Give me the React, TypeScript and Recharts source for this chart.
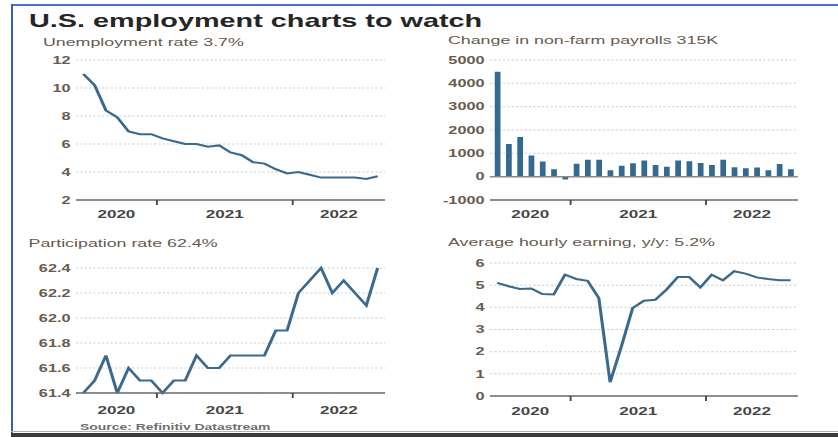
import React from "react";
import { ComposedChart, Line, Bar, XAxis, YAxis, CartesianGrid, ReferenceLine } from "recharts";

// the reference is a horizontally stretched picture, so the panels are drawn narrow and scaled
const S = 1.55;
const FONT = "'Liberation Sans', Arial, sans-serif";

const months = [
  "2020-06", "2020-07", "2020-08", "2020-09", "2020-10", "2020-11", "2020-12",
  "2021-01", "2021-02", "2021-03", "2021-04", "2021-05", "2021-06", "2021-07",
  "2021-08", "2021-09", "2021-10", "2021-11", "2021-12",
  "2022-01", "2022-02", "2022-03", "2022-04", "2022-05", "2022-06", "2022-07", "2022-08",
];

const unemployment = [11.0, 10.2, 8.4, 7.9, 6.9, 6.7, 6.7, 6.4, 6.2, 6.0, 6.0, 5.8, 5.9, 5.4, 5.2, 4.7, 4.6, 4.2, 3.9, 4.0, 3.8, 3.6, 3.6, 3.6, 3.6, 3.5, 3.7];
const payrolls = [4500, 1400, 1700, 910, 650, 320, -120, 550, 720, 720, 280, 470, 580, 690, 500, 430, 690, 660, 590, 500, 730, 400, 360, 390, 280, 540, 315];
const participation = [61.4, 61.5, 61.7, 61.4, 61.6, 61.5, 61.5, 61.4, 61.5, 61.5, 61.7, 61.6, 61.6, 61.7, 61.7, 61.7, 61.7, 61.9, 61.9, 62.2, 62.3, 62.4, 62.2, 62.3, 62.2, 62.1, 62.4];
const earnings = [5.1, 4.95, 4.83, 4.85, 4.6, 4.58, 5.47, 5.28, 5.2, 4.42, 0.62, 2.23, 3.97, 4.3, 4.34, 4.8, 5.37, 5.37, 4.9, 5.47, 5.22, 5.63, 5.52, 5.35, 5.28, 5.22, 5.22];

const unempTicks = [2, 4, 6, 8, 10, 12];
const payrollTicks = [-1000, 0, 1000, 2000, 3000, 4000, 5000];
const partTicks = [61.4, 61.6, 61.8, 62.0, 62.2, 62.4];
const earnTicks = [0, 1, 2, 3, 4, 5, 6];

const X_DOMAIN: [number, number] = [-0.65, 26.65];
const boundaries = months
  .map((m, i) => (m.endsWith("-01") ? i - 0.5 : null))
  .filter((v): v is number => v !== null);
const edges = [X_DOMAIN[0], ...boundaries, X_DOMAIN[1]];
const yearCenters = edges.slice(0, -1).map((e, k) => ({
  value: (e + edges[k + 1]) / 2,
  label: months[Math.max(0, Math.ceil(e))].slice(0, 4),
}));
const xTicks = [...yearCenters.map((c) => c.value), ...boundaries].sort((a, b) => a - b);

const LINE = "#3b6a8e";
const BAR = "#346a8f";
const TICK_STYLE = { fill: "#6a5b4d", fontSize: 10.5, fontWeight: 700, fontFamily: FONT };

const yearTick = (dy: number) => (props: any) => {
  const { x, y, payload } = props;
  const c = yearCenters.find((yc) => Math.abs(yc.value - payload.value) < 1e-6);
  if (!c) {
    return <line x1={x} x2={x} y1={y} y2={y + 5} stroke="#444" strokeWidth={1.2} />;
  }
  return (
    <text x={x} y={y + dy} textAnchor="middle" fill="#474747" fontSize={11} fontWeight={700} fontFamily={FONT}>
      {c.label}
    </text>
  );
};

interface PanelProps {
  left: number;
  top: number;
  width: number;
  height: number;
  yWidth: number;
  values: number[];
  domain: [number, number];
  ticks: number[];
  labelDy: number;
  kind: "line" | "bar";
  fmt?: (v: number) => string;
}

function Panel({ left, top, width, height, yWidth, values, domain, ticks, labelDy, kind, fmt }: PanelProps) {
  const data = months.map((m, i) => ({ i, month: m, value: values[i] }));
  return (
    <div style={{ position: "absolute", left, top }}>
      <ComposedChart width={width} height={height} data={data} margin={{ top: 10, right: 10, bottom: 0, left: 0 }}>
        <CartesianGrid vertical={false} stroke="#cdcdcd" strokeDasharray="1.4 1.4" />
        <XAxis
          dataKey="i"
          type="number"
          domain={X_DOMAIN}
          ticks={xTicks}
          interval={0}
          height={30}
          tickLine={false}
          tickSize={0}
          tickMargin={0}
          axisLine={{ stroke: "#6b6b6b", strokeWidth: 1.5 }}
          tick={yearTick(labelDy)}
        />
        <YAxis
          type="number"
          domain={domain}
          ticks={ticks}
          interval={0}
          width={yWidth}
          axisLine={false}
          tickLine={false}
          tickSize={0}
          tickMargin={3.5}
          tick={TICK_STYLE}
          tickFormatter={fmt}
        />
        {kind === "bar" && <ReferenceLine y={0} stroke="#8a8a8a" strokeWidth={1.5} />}
        {kind === "bar" ? (
          <Bar dataKey="value" fill={BAR} barSize={3.7} isAnimationActive={false} />
        ) : (
          <Line dataKey="value" type="linear" stroke={LINE} strokeWidth={2} dot={false} isAnimationActive={false} />
        )}
      </ComposedChart>
    </div>
  );
}

export default function App() {
  const innerW = 838 / S;
  const sub = { fill: "#675a4e", fontSize: 11.5, fontFamily: FONT };
  return (
    <div style={{ position: "absolute", left: 0, top: 0, width: 838, height: 437, background: "#fff", overflow: "hidden" }}>
      <div style={{ position: "absolute", left: 11, top: 4, right: 0, height: 2, background: "#4a74c8" }} />
      <div style={{ position: "absolute", left: 11, top: 4, width: 2, height: 430, background: "#3b5fb0" }} />
      <div style={{ position: "absolute", left: 11, top: 431, right: 0, height: 1, background: "#b0b0b0" }} />
      <div style={{ position: "absolute", left: 11, top: 433, right: 0, height: 4, background: "#3c3c3c" }} />

      <div
        style={{
          position: "absolute",
          left: 0,
          top: 0,
          width: innerW,
          height: 437,
          transform: `scaleX(${S})`,
          transformOrigin: "0 0",
        }}
      >
        <Panel left={0} top={50} width={258.4} height={180} yWidth={49} values={unemployment} domain={[2, 12]} ticks={unempTicks} labelDy={18} kind="line" />
        <Panel left={270} top={50} width={254.8} height={180} yWidth={46.1} values={payrolls} domain={[-1000, 5000]} ticks={payrollTicks} labelDy={18} kind="bar" />
        <Panel left={0} top={258} width={258.4} height={165} yWidth={49} values={participation} domain={[61.4, 62.4]} ticks={partTicks} labelDy={21} kind="line" fmt={(v) => v.toFixed(1)} />
        <Panel left={270} top={253} width={254.8} height={173} yWidth={46.1} values={earnings} domain={[0, 6]} ticks={earnTicks} labelDy={19} kind="line" />

        <svg width={innerW} height={437} style={{ position: "absolute", left: 0, top: 0, pointerEvents: "none" }}>
          <text x={18.7} y={27} fill="#262626" fontSize={18.6} fontWeight={700} fontFamily={FONT}>
            U.S. employment charts to watch
          </text>
          <text x={27.7} y={46} {...sub}>Unemployment rate 3.7%</text>
          <text x={289} y={44.5} {...sub}>Change in non-farm payrolls 315K</text>
          <text x={18.4} y={247} {...sub}>Participation rate 62.4%</text>
          <text x={289} y={246} {...sub}>Average hourly earning, y/y: 5.2%</text>
          <text x={51.6} y={430.5} fill="#6e6e6e" fontSize={9} fontWeight={700} fontFamily={FONT}>
            Source: Refinitiv Datastream
          </text>
        </svg>
      </div>
    </div>
  );
}
